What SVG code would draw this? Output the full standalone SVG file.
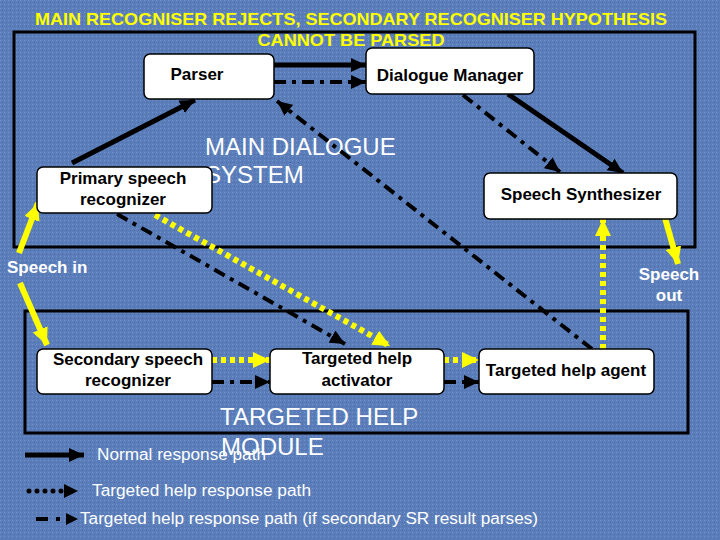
<svg xmlns="http://www.w3.org/2000/svg" width="720" height="540" viewBox="0 0 720 540">
<defs>
<pattern id="tex" width="4" height="4" patternUnits="userSpaceOnUse">
<rect width="4" height="4" fill="#5b7eba"/>
<rect x="0" y="0" width="1" height="1" fill="#7494cc"/>
<rect x="2" y="2" width="1" height="1" fill="#4c6fa8"/>
</pattern>
<marker id="ab" markerUnits="userSpaceOnUse" markerWidth="16" markerHeight="14" refX="15" refY="7" orient="auto">
<path d="M0,0 L15,7 L0,14 z" fill="#000"/>
</marker>
<marker id="ay" markerUnits="userSpaceOnUse" markerWidth="18" markerHeight="16" refX="17" refY="8" orient="auto">
<path d="M0,0 L17,8 L0,16 z" fill="#ffff00"/>
</marker>
<style>
.node rect{fill:#fff;stroke:#000;stroke-width:1.5}
.nt{font-family:"Liberation Sans",Arial,sans-serif;font-weight:bold;font-size:17px;fill:#000;text-anchor:middle}
.solid{stroke:#000;stroke-width:5;fill:none;marker-end:url(#ab)}
.dd{stroke:#000;stroke-width:4;fill:none;stroke-dasharray:12 6 4 6;marker-end:url(#ab)}
.yd{stroke:#ffff00;stroke-width:6;fill:none;stroke-dasharray:5 4;marker-end:url(#ay)}
.ys{stroke:#ffff00;stroke-width:6;fill:none;marker-end:url(#ay)}
.frame{fill:none;stroke:#000;stroke-width:3}
.big{font-family:"Liberation Sans",Arial,sans-serif;font-size:24px;fill:#fff}
.wb{font-family:"Liberation Sans",Arial,sans-serif;font-weight:bold;font-size:17px;fill:#fff}
.leg{font-family:"Liberation Sans",Arial,sans-serif;font-size:16px;fill:#fff}
.title{font-family:"Liberation Sans",Arial,sans-serif;font-weight:bold;font-size:17px;fill:#ffff00;text-anchor:middle}
</style>
</defs>
<rect width="720" height="540" fill="url(#tex)"/>
<g id="frames">
<rect class="frame" x="14" y="32" width="681" height="215"/>
<rect class="frame" x="25" y="311" width="663" height="122"/>
</g>
<g id="labels">
<text class="title" x="351" y="25" textLength="632" lengthAdjust="spacingAndGlyphs">MAIN RECOGNISER REJECTS, SECONDARY RECOGNISER HYPOTHESIS</text>
<text class="title" x="351" y="46" textLength="187" lengthAdjust="spacingAndGlyphs">CANNOT BE PARSED</text>
<text class="big" x="205" y="155">MAIN DIALOGUE</text>
<text class="big" x="205" y="183">SYSTEM</text>
<text class="wb" x="7" y="273">Speech in</text>
<text class="wb" x="669" y="280" text-anchor="middle">Speech</text>
<text class="wb" x="669" y="301" text-anchor="middle">out</text>
<text class="leg" x="97" y="460" textLength="169" lengthAdjust="spacingAndGlyphs">Normal response path</text>
<text class="big" x="220" y="425">TARGETED HELP</text>
<text class="big" x="221" y="455">MODULE</text>
<text class="leg" x="92" y="496" textLength="219" lengthAdjust="spacingAndGlyphs">Targeted help response path</text>
<text class="leg" x="80" y="524" textLength="458" lengthAdjust="spacingAndGlyphs">Targeted help response path (if secondary SR result parses)</text>
</g>
<g id="connectors">
<line class="solid" x1="274" y1="65" x2="366" y2="65"/>
<line class="dd" x1="274" y1="82" x2="366" y2="82"/>
<line class="solid" x1="72" y1="163" x2="195" y2="100"/>
<line class="solid" x1="508" y1="94" x2="623" y2="173"/>
<line class="dd" x1="463" y1="95" x2="560" y2="172"/>
<line class="dd" x1="592" y1="349" x2="277" y2="101"/>
<line class="dd" x1="117" y1="214" x2="345" y2="344"/>
<line class="yd" x1="155" y1="215" x2="390" y2="346"/>
<line class="yd" x1="603" y1="349" x2="603" y2="219"/>
<line class="ys" x1="665" y1="218" x2="678" y2="264"/>
<line class="ys" x1="19" y1="253" x2="38" y2="203"/>
<line class="ys" x1="20" y1="283" x2="47" y2="345"/>
<line class="yd" x1="212" y1="360" x2="270" y2="360"/>
<line class="dd" x1="212" y1="382" x2="270" y2="382"/>
<line class="yd" x1="444" y1="360" x2="479" y2="360"/>
<line class="dd" x1="444" y1="382" x2="479" y2="382"/>
<line class="solid" x1="25" y1="455" x2="84" y2="455"/>
<line x1="29" y1="491" x2="64" y2="491" stroke="#000" stroke-width="5" stroke-linecap="round" stroke-dasharray="0 8"/>
<path d="M64,484 L78,491 L64,498 z" fill="#000"/>
<line x1="36" y1="519" x2="66" y2="519" stroke="#000" stroke-width="4" stroke-dasharray="12 8 4 20"/>
<path d="M66,513 L78,519 L66,525 z" fill="#000"/>
</g>
<g id="parser" class="node"><rect x="144" y="54" width="130" height="45" rx="6"/><text class="nt" x="197" y="80">Parser</text></g>
<g id="dialogue-manager" class="node"><rect x="366" y="48" width="168" height="46" rx="6"/><text class="nt" x="450" y="81">Dialogue Manager</text></g>
<g id="primary-recognizer" class="node"><rect x="37" y="167" width="175" height="46" rx="6"/><text class="nt" x="123" y="184">Primary speech</text><text class="nt" x="123" y="205">recognizer</text></g>
<g id="speech-synthesizer" class="node"><rect x="484" y="173" width="193" height="46" rx="6"/><text class="nt" x="581" y="200">Speech Synthesizer</text></g>
<g id="secondary-recognizer" class="node"><rect x="37" y="349" width="175" height="45" rx="6"/><text class="nt" x="128" y="365">Secondary speech</text><text class="nt" x="128" y="386">recognizer</text></g>
<g id="help-activator" class="node"><rect x="270" y="349" width="174" height="45" rx="6"/><text class="nt" x="357" y="364">Targeted help</text><text class="nt" x="357" y="386">activator</text></g>
<g id="help-agent" class="node"><rect x="479" y="349" width="175" height="45" rx="6"/><text class="nt" x="566" y="376">Targeted help agent</text></g>
</svg>
